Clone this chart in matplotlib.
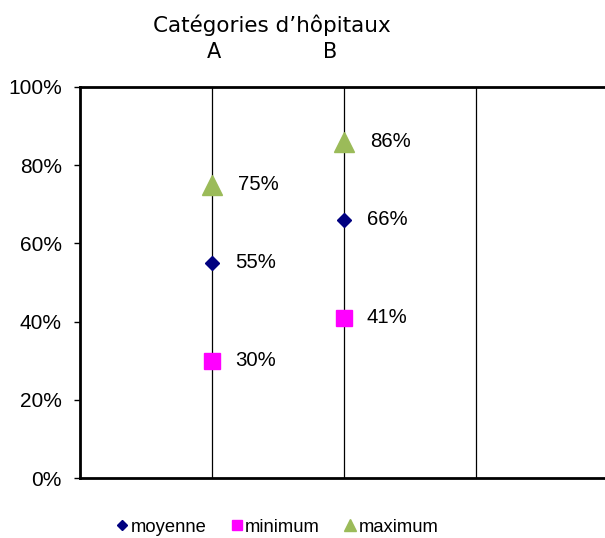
import matplotlib
matplotlib.use("Agg")
import matplotlib.pyplot as plt
from matplotlib.lines import Line2D

categories = ["A", "B"]
moyenne = [0.55, 0.66]
minimum = [0.30, 0.41]
maximum = [0.75, 0.86]
yticks = [0, 0.2, 0.4, 0.6, 0.8, 1.0]
ytick_labels = ["0%", "20%", "40%", "60%", "80%", "100%"]

NAVY = "#000080"
MAGENTA = "#FF00FF"
GREEN = "#9BBB59"

fig = plt.figure(figsize=(6.05, 5.38), dpi=100)
ax = fig.add_axes([80/605, 60/538, 528/605, 391/538])

xs = [1, 2]
ax.set_xlim(0, 4)
ax.set_ylim(0, 1)

for gx in [1, 2, 3]:
    ax.axvline(gx, color="black", lw=0.9, zorder=1)

ax.plot(xs, maximum, linestyle="none", marker="^", ms=14.5, color=GREEN, zorder=3, clip_on=False)
ax.plot(xs, moyenne, linestyle="none", marker="D", ms=7.5, color=NAVY, zorder=3, clip_on=False)
ax.plot(xs, minimum, linestyle="none", marker="s", ms=11, color=MAGENTA, zorder=3, clip_on=False)

lab_font = dict(family=["Liberation Sans", "DejaVu Sans"], fontsize=14.7, color="black")
for x, v in zip(xs, maximum):
    ax.annotate(f"{round(v*100)}%", (x, v), xytext=(26, 0), textcoords="offset pixels",
                ha="left", va="center", **lab_font)
for x, v in zip(xs, moyenne):
    ax.annotate(f"{round(v*100)}%", (x, v), xytext=(23, 0), textcoords="offset pixels",
                ha="left", va="center", **lab_font)
for x, v in zip(xs, minimum):
    ax.annotate(f"{round(v*100)}%", (x, v), xytext=(23, 0), textcoords="offset pixels",
                ha="left", va="center", **lab_font)

ax.set_yticks(yticks)
ax.set_yticklabels(ytick_labels, family=["Liberation Sans", "DejaVu Sans"], fontsize=15)
ax.tick_params(axis="y", direction="out", length=4.5, width=1, pad=8.5)
ax.set_xticks([])

for s in ["top", "bottom", "left"]:
    ax.spines[s].set_linewidth(2)
ax.spines["right"].set_visible(False)

# Title and category labels
fig.text(272/605, 1 - 25/538, "Catégories d’hôpitaux", ha="center", va="center",
         family="DejaVu Sans", fontsize=15.5)
fig.text(214/605, 1 - 52/538, categories[0], ha="center", va="center",
         family="DejaVu Sans", fontsize=15)
fig.text(330/605, 1 - 52/538, categories[1], ha="center", va="center",
         family="DejaVu Sans", fontsize=15)

handles = [
    Line2D([], [], linestyle="none", marker="D", ms=5.5, color=NAVY),
    Line2D([], [], linestyle="none", marker="s", ms=7, color=MAGENTA),
    Line2D([], [], linestyle="none", marker="^", ms=8, color=GREEN),
]
leg = fig.legend(handles, ["moyenne", "minimum", "maximum"], loc="center",
                 bbox_to_anchor=(278/605, 1 - 527/538), ncol=3, frameon=False,
                 handlelength=0.5, handletextpad=0.2, columnspacing=1.4,
                 prop={"family": "Liberation Sans", "size": 13.2})

fig.savefig("out.png", dpi=100)
